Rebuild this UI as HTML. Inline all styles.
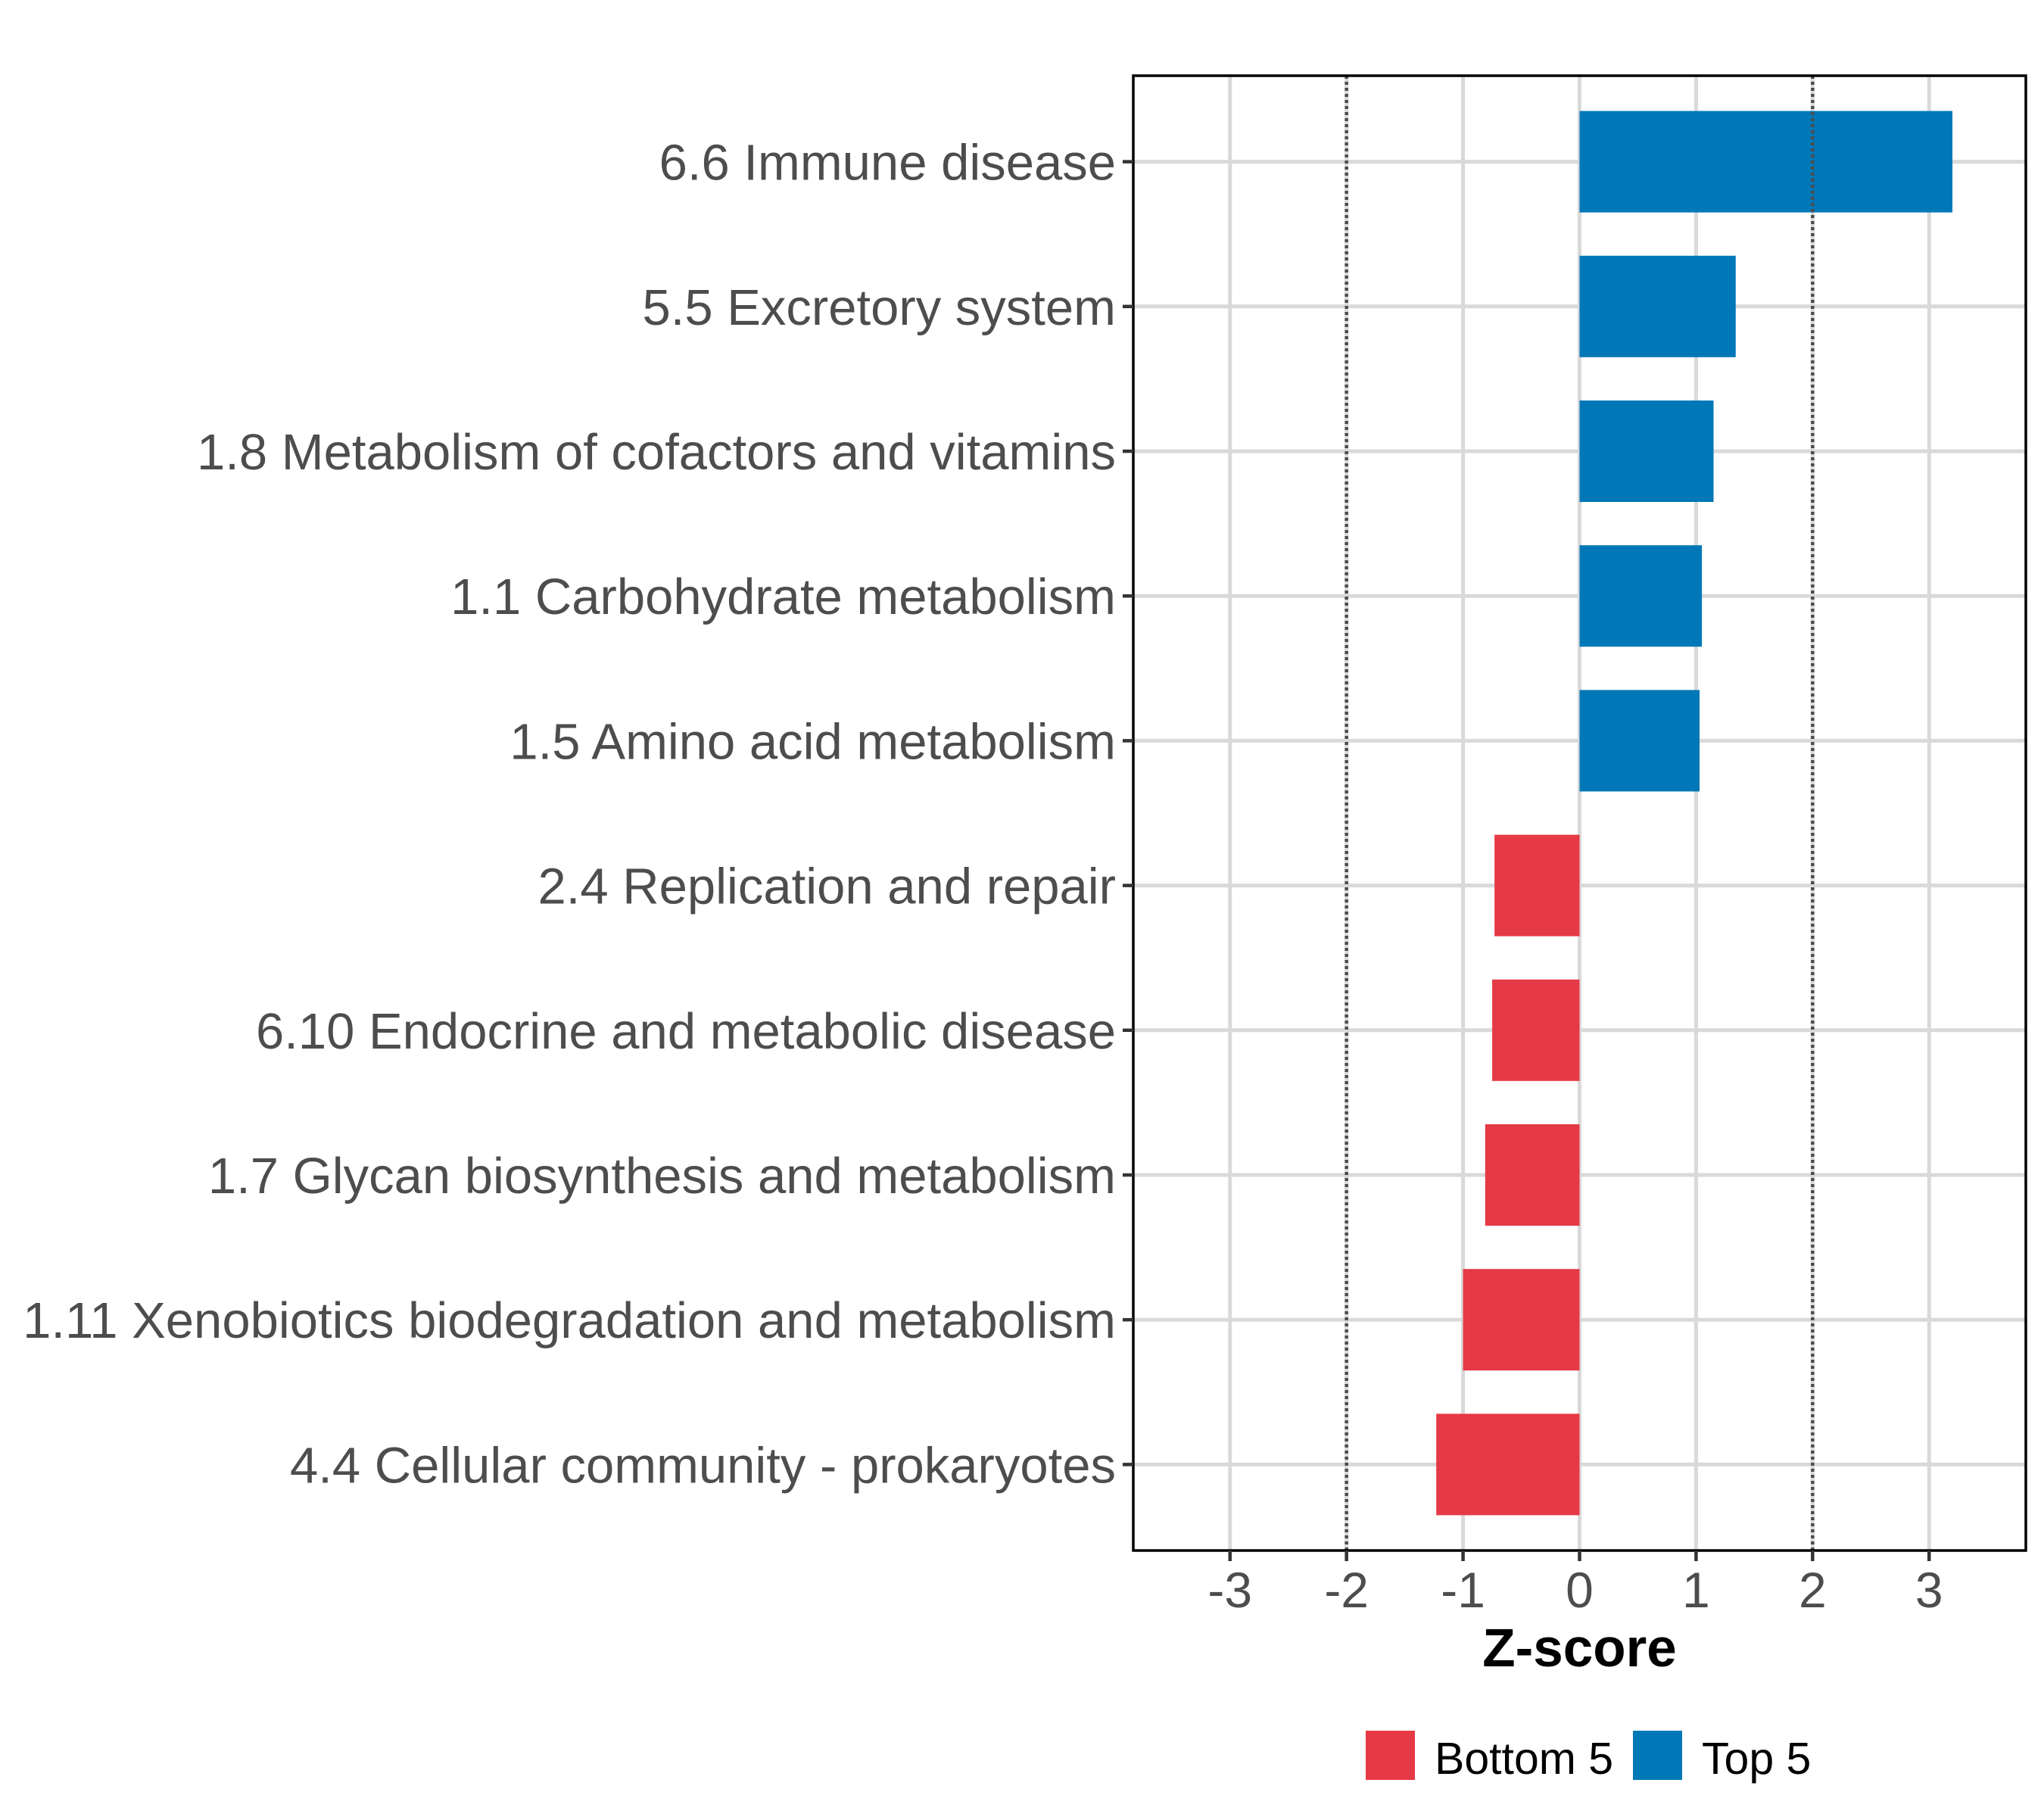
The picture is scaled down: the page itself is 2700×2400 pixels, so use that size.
<!DOCTYPE html>
<html><head><meta charset="utf-8"><style>body{margin:0;background:#fff}svg{display:block}</style></head>
<body>
<svg id="chart" width="2700" height="2400" xmlns="http://www.w3.org/2000/svg" font-family="'Liberation Sans', sans-serif"></svg>
<script>
const categories = ["6.6 Immune disease","5.5 Excretory system","1.8 Metabolism of cofactors and vitamins","1.1 Carbohydrate metabolism","1.5 Amino acid metabolism","2.4 Replication and repair","6.10 Endocrine and metabolic disease","1.7 Glycan biosynthesis and metabolism","1.11 Xenobiotics biodegradation and metabolism","4.4 Cellular community - prokaryotes"];
const values = [3.20, 1.34, 1.15, 1.05, 1.03, -0.73, -0.75, -0.81, -1.0, -1.23];
const groups = ["Top 5","Top 5","Top 5","Top 5","Top 5","Bottom 5","Bottom 5","Bottom 5","Bottom 5","Bottom 5"];
const xTicks = [-3,-2,-1,0,1,2,3];
const refLines = [-2, 2];
const legendLabels = ["Bottom 5","Top 5"];

const colors = {"Top 5":"#0077b6","Bottom 5":"#e63946"};
const svg = document.getElementById('chart');
const NS = "http://www.w3.org/2000/svg";
const L=1497, R=2676, T=100, B=2048, xMin=-3.83, xMax=3.83;
const x = v => L + (v - xMin)/(xMax - xMin)*(R-L);
const y0 = 213.6, step = 191.2;
const y = i => y0 + i*step;
const bh = 134;
function mk(tag, attrs){const e=document.createElementNS(NS,tag);for(const k in attrs)e.setAttribute(k,attrs[k]);svg.appendChild(e);return e;}

xTicks.forEach(t=>{
  const g=mk('line',{x1:x(t),x2:x(t),y1:T,y2:B,stroke:'#d9d9d9','stroke-width':5});
  
  
});
categories.forEach((c,i)=>{
  const g=mk('line',{x1:L,x2:R,y1:y(i),y2:y(i),stroke:'#d9d9d9','stroke-width':5});
  
  
});
values.forEach((v,i)=>{
  const b=mk('rect',{x:Math.min(x(0),x(v)),y:y(i)-bh/2,width:Math.abs(x(v)-x(0)),height:bh,fill:colors[groups[i]]});
  
  
});
refLines.forEach(r=>{
  const l=mk('line',{x1:x(r),x2:x(r),y1:T,y2:B,stroke:'#4d4d4d','stroke-width':4.5,'stroke-dasharray':'4 4'});
  
  
});
const fr=mk('rect',{x:L,y:T,width:R-L,height:B-T,fill:'none',stroke:'#000','stroke-width':3.5});


categories.forEach((c,i)=>{
  const tk=mk('line',{x1:L-14,x2:L,y1:y(i),y2:y(i),stroke:'#333','stroke-width':4.5});
  
  
  const t=mk('text',{x:L-23,y:y(i)+24,'text-anchor':'end','font-size':67,fill:'#4d4d4d'});
  t.textContent=c;
  
  
});
xTicks.forEach(v=>{
  const tk=mk('line',{x1:x(v),x2:x(v),y1:B,y2:B+14,stroke:'#333','stroke-width':4.5});
  
  
  const t=mk('text',{x:x(v),y:2123,'text-anchor':'middle','font-size':66,fill:'#4d4d4d'});
  t.textContent=v;
  
  
});
const xt=mk('text',{x:x(0),y:2201,'text-anchor':'middle','font-size':71,'font-weight':'bold',fill:'#000'});
xt.textContent='Z-score';


const lx=[1804,2157];
legendLabels.forEach((lab,i)=>{
  const k=mk('rect',{x:lx[i],y:2286,width:65,height:65,fill:colors[lab]});
  
  
  const t=mk('text',{x:lx[i]+91,y:2343,'font-size':59,fill:'#000'});
  t.textContent=lab;
  
  
});
</script>
</body></html>
